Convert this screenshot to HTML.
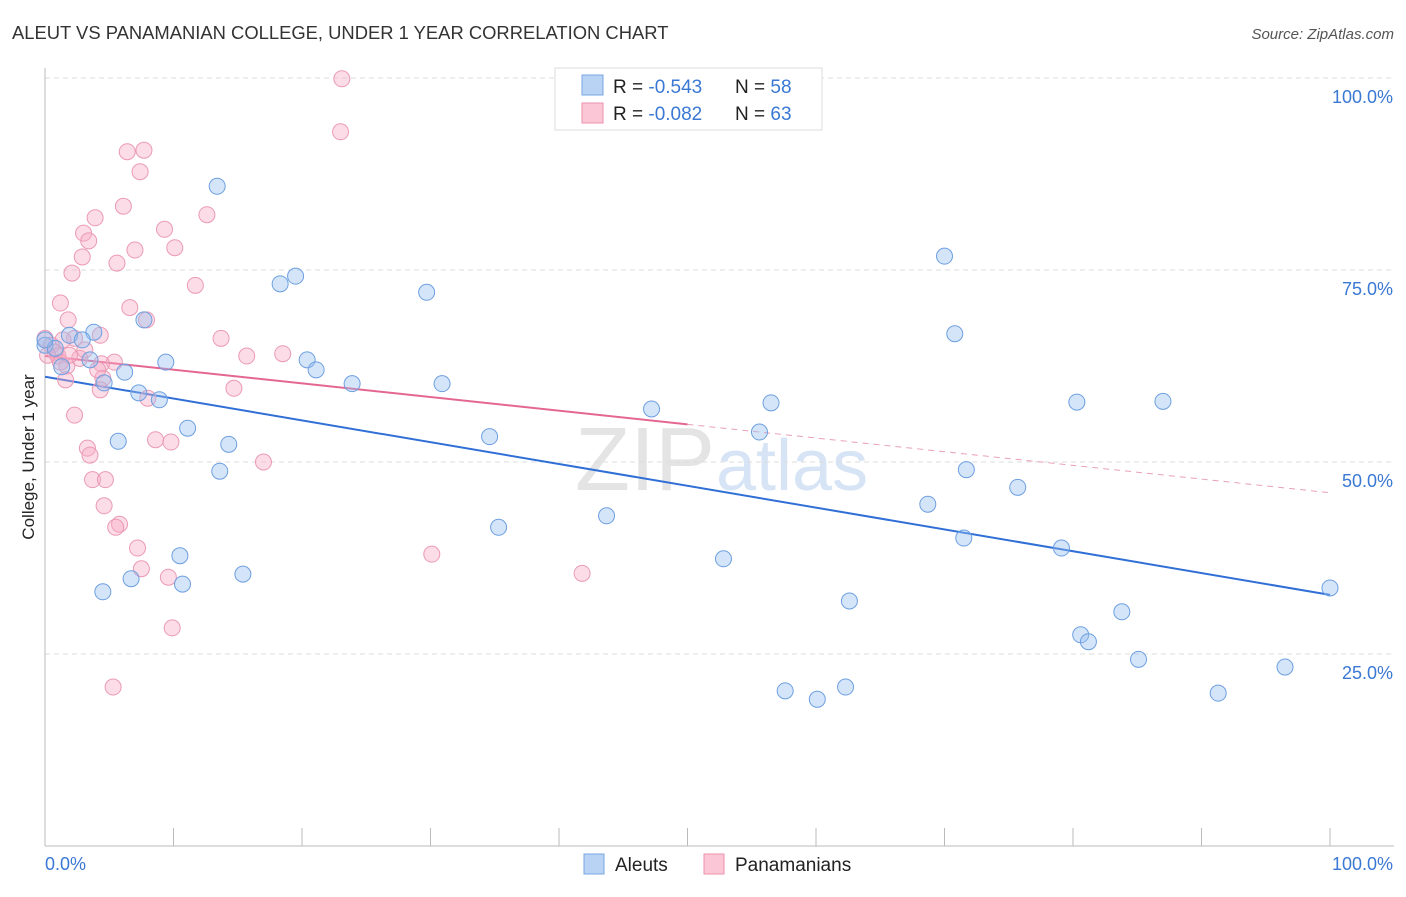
<!DOCTYPE html>
<html><head><meta charset="utf-8"><style>
body{margin:0;background:#fff;font-family:"Liberation Sans",sans-serif;}
svg text{font-family:"Liberation Sans",sans-serif;}
</style></head><body>
<svg id="c" width="1406" height="892">
<text x="12" y="39" font-size="18.4" fill="#333">ALEUT VS PANAMANIAN COLLEGE, UNDER 1 YEAR CORRELATION CHART</text>
<text x="1394" y="39" font-size="15" fill="#555" font-style="italic" text-anchor="end">Source: ZipAtlas.com</text>
<text x="715" y="490" font-size="90" fill="#e4e4e4" text-anchor="end" font-family="Liberation Serif">ZIP</text>
<text x="716" y="490" font-size="72" fill="#d6e4f5">atlas</text>
<g id="grid"></g><g id="axes"></g><g id="lines"></g><g id="pts"></g>
<g>
<rect x="555" y="68" width="267" height="62" fill="#fff" stroke="#ddd"/>
<rect x="582" y="75" width="21" height="20" fill="#b9d3f5" stroke="#7aa6e3"/>
<rect x="582" y="103" width="21" height="20" fill="#fbc7d6" stroke="#ee92ae"/>
<text x="613" y="93" font-size="19" fill="#222">R = <tspan fill="#3a78d4">-0.543</tspan></text>
<text x="735" y="93" font-size="19" fill="#222">N = <tspan fill="#3a78d4">58</tspan></text>
<text x="613" y="120" font-size="19" fill="#222">R = <tspan fill="#3a78d4">-0.082</tspan></text>
<text x="735" y="120" font-size="19" fill="#222">N = <tspan fill="#3a78d4">63</tspan></text>
</g>
<g>
<rect x="584" y="854" width="20" height="20" fill="#b9d3f5" stroke="#7aa6e3"/>
<text x="615" y="871" font-size="19" fill="#222">Aleuts</text>
<rect x="704" y="854" width="20" height="20" fill="#fbc7d6" stroke="#ee92ae"/>
<text x="735" y="871" font-size="19" fill="#222">Panamanians</text>
</g>
<text transform="translate(34,457) rotate(-90)" font-size="17" fill="#222" text-anchor="middle">College, Under 1 year</text>
</svg>
<script>
const blueXY=[[217,186],[944,256],[295,276],[280,284],[427,292],[144,320],[94,332],[70,335],[955,334],[82,340],[45,345],[55,348],[90,360],[166,362],[307,360],[316,370],[62,367],[125,372],[104,383],[352,384],[442,384],[139,393],[160,400],[652,409],[771,403],[1077,402],[1163,401],[759,432],[187,428],[489,437],[118,441],[229,444],[220,471],[966,470],[1018,487],[928,504],[607,516],[498,527],[964,538],[180,556],[1062,548],[724,559],[243,574],[131,579],[182,584],[103,592],[1330,588],[850,601],[1122,612],[1081,635],[1089,642],[1138,659],[1285,667],[846,687],[785,691],[817,699],[1218,693],[45,340]];
const pinkXY=[[342,79],[341,132],[144,150],[127,152],[140,172],[124,206],[207,215],[95,218],[165,229],[84,233],[89,241],[175,248],[135,250],[82,257],[117,263],[72,273],[195,285],[61,303],[130,308],[147,320],[68,320],[221,338],[75,338],[45,338],[52,345],[55,352],[58,356],[247,356],[283,354],[80,358],[115,362],[102,364],[67,366],[103,378],[66,380],[100,390],[234,388],[148,398],[74,415],[155,440],[171,442],[88,448],[90,455],[264,462],[93,480],[106,480],[104,506],[120,524],[116,527],[138,548],[432,554],[142,569],[582,573],[168,577],[172,628],[113,687],[60,362],[48,355],[63,340],[98,370],[85,350],[70,355],[100,335]];
const aleutX=blueXY.map(p=>+((p[0]-45)/12.85).toFixed(1));
const aleutY=blueXY.map(p=>+((846-p[1])/7.68).toFixed(1));
const panX=pinkXY.map(p=>+((p[0]-45)/12.85).toFixed(1));
const panY=pinkXY.map(p=>+((846-p[1])/7.68).toFixed(1));
const yTicks=[25,50,75,100];
const yTickLabels=["25.0%","50.0%","75.0%","100.0%"];
const aleutFit=[61.1,32.7];
const panFit=[63.8,46.0];
const X=v=>45+v*12.85, Y=v=>846-v*7.68;
const NS="http://www.w3.org/2000/svg";
function mk(t,a,p){const e=document.createElementNS(NS,t);for(const k in a)e.setAttribute(k,a[k]);document.getElementById(p).appendChild(e);return e;}
yTicks.forEach((t,i)=>{
 const l=mk('line',{x1:45,x2:1394,y1:Y(t),y2:Y(t),stroke:'#ddd','stroke-dasharray':'5,4'},'grid');
 
 
 const tx=mk('text',{x:1393,y:Y(t)+25,'font-size':18,fill:'#3a78d4','text-anchor':'end'},'axes');
 tx.textContent=yTickLabels[i];
 
 
});
mk('line',{x1:45,x2:45,y1:68,y2:846,stroke:'#bbb'},'axes');
mk('line',{x1:45,x2:1394,y1:846,y2:846,stroke:'#bbb'},'axes');
for(let i=0;i<=10;i++){mk('line',{x1:X(i*10),x2:X(i*10),y1:828,y2:846,stroke:'#bbb'},'axes');}
let t0=mk('text',{x:45,y:870,'font-size':18,fill:'#3a78d4'},'axes');t0.textContent='0.0%';


let t1=mk('text',{x:1393,y:870,'font-size':18,fill:'#3a78d4','text-anchor':'end'},'axes');t1.textContent='100.0%';


function pts(xs,ys,fill,stroke,name){xs.forEach((x,i)=>{const c=mk('circle',{cx:X(x),cy:Y(ys[i]),r:8,fill:fill,stroke:stroke,'stroke-width':1},'pts');
 
 });}
pts(panX,panY,'rgba(248,170,195,0.4)','#eb9ab4','panamanian-point');
pts(aleutX,aleutY,'rgba(150,190,240,0.4)','#6d9fe0','aleut-point');
let bl=mk('line',{x1:X(0),y1:Y(aleutFit[0]),x2:X(100),y2:Y(aleutFit[1]),stroke:'#2f6fd6','stroke-width':2},'lines');


const pm=v=>panFit[0]+(panFit[1]-panFit[0])*v/100;
let pl=mk('line',{x1:X(0),y1:Y(pm(0)),x2:X(50),y2:Y(pm(50)),stroke:'#e46792','stroke-width':2},'lines');


let pd=mk('line',{x1:X(50),y1:Y(pm(50)),x2:X(100),y2:Y(pm(100)),stroke:'#e9a0b8','stroke-width':1,'stroke-dasharray':'6,5'},'lines');


</script>
</body></html>
